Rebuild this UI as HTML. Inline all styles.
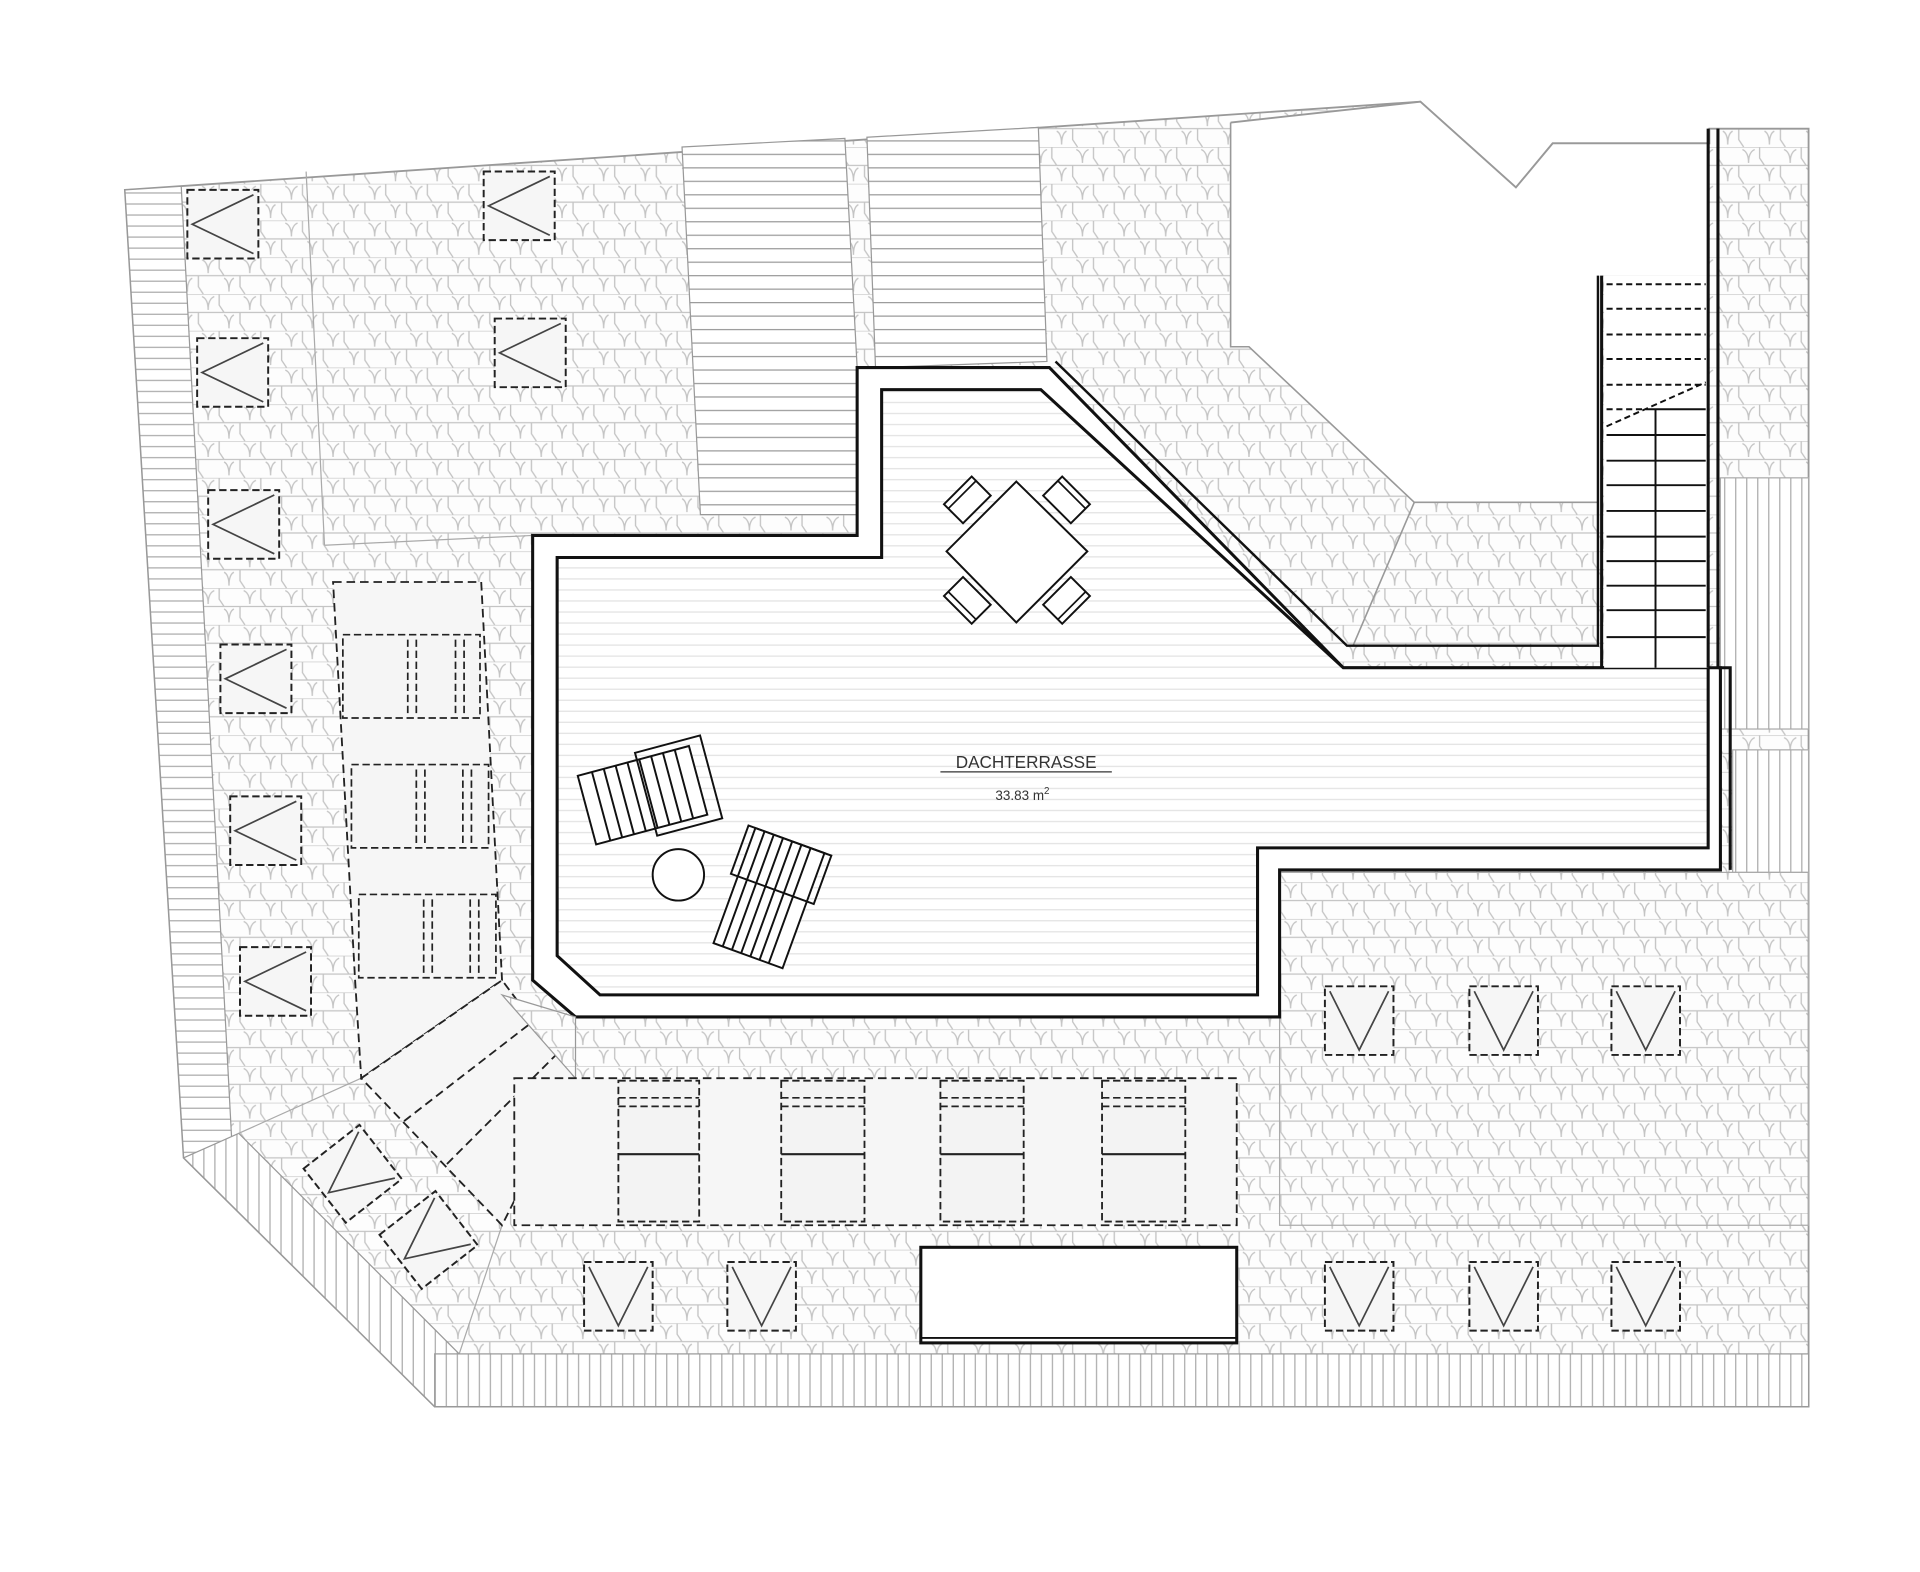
<!DOCTYPE html>
<html><head><meta charset="utf-8"><style>html,body{margin:0;padding:0;background:#fff}svg{display:block}</style></head>
<body>
<svg width="1920" height="1572" viewBox="0 0 1568 1283" preserveAspectRatio="none" xmlns="http://www.w3.org/2000/svg">
<defs>
<pattern id="tile" width="34" height="30" patternUnits="userSpaceOnUse">
<rect width="34" height="30" fill="#fdfdfd"/>
<path d="M0,0H34M0,15H34M9,0V9L13,15M26,15V24L30,30" stroke="#c4c4c4" stroke-width="1.1" fill="none"/>
<path d="M0,13Q0,4 5,2M34,13Q34,4 29,2M17,28Q17,19 21,17M17,28Q17,19 13,17" stroke="#c4c4c4" stroke-width="1.1" fill="none"/>
</pattern>
<pattern id="hl" width="10" height="9" patternUnits="userSpaceOnUse"><rect width="10" height="9" fill="#fff"/><path d="M0,4.5H10" stroke="#aaa" stroke-width="1"/></pattern>
<pattern id="hl2" width="10" height="11" patternUnits="userSpaceOnUse"><rect width="10" height="11" fill="#fff"/><path d="M0,5H10" stroke="#999" stroke-width="1"/></pattern>
<pattern id="vl" width="9" height="10" patternUnits="userSpaceOnUse"><rect width="9" height="10" fill="#fff"/><path d="M4.5,0V10" stroke="#aaa" stroke-width="1"/></pattern>
<pattern id="deck" width="10" height="9" patternUnits="userSpaceOnUse"><rect width="10" height="9" fill="#fff"/><path d="M0,4.5H10" stroke="#e2e2e2" stroke-width="1"/></pattern>
<g id="win"><rect x="0" y="0" width="56" height="56" fill="#f6f6f6" stroke="#222" stroke-width="1.6" stroke-dasharray="6,3"/><path d="M4,4L28,52L52,4" stroke="#444" stroke-width="1.4" fill="none"/></g>
<g id="winL"><rect x="0" y="0" width="58" height="56" fill="#f6f6f6" stroke="#222" stroke-width="1.6" stroke-dasharray="6,3"/><path d="M54,4L4,28L54,52" stroke="#444" stroke-width="1.4" fill="none"/></g>
<g id="chair"><rect x="-16" y="-11" width="32" height="22" fill="#fff" stroke="#111" stroke-width="1.6"/><line x1="-16" y1="-6" x2="16" y2="-6" stroke="#111" stroke-width="1.4"/></g>
</defs>
<polygon points="102,155 1160,83 1238,153 1268,117 1396,117 1396,105 1477,105 1477,1148 355,1148 150,945" fill="url(#tile)" stroke="#999" stroke-width="1.5"/>
<polygon points="1005,100 1160,83 1238,153 1268,117 1396,117 1396,225 1308,225 1308,410 1155,410 1020,283 1005,283" fill="#fff"/>
<path d="M1005,100L1160,83L1238,153L1268,117L1396,117" stroke="#999" stroke-width="1.5" fill="none"/>
<polyline points="1005,100 1005,283 1020,283 1155,410 1305,410" stroke="#999" stroke-width="1.3" fill="none"/>
<line x1="1155" y1="410" x2="1105" y2="527" stroke="#999" stroke-width="1.3"/>
<polygon points="102,155 148,152 190,945 150,945" fill="url(#hl)" stroke="#999"/>
<line x1="250" y1="140" x2="265" y2="445" stroke="#aaa"/>
<line x1="265" y1="445" x2="435" y2="437" stroke="#aaa"/>
<polygon points="150,945 195,925 375,1105 355,1148" fill="url(#vl)" stroke="#999"/>
<line x1="195" y1="925" x2="295" y2="880" stroke="#aaa"/>
<line x1="375" y1="1105" x2="410" y2="1000" stroke="#aaa"/>
<rect x="355" y="1105" width="1122" height="43" fill="url(#vl)" stroke="#999"/>
<polygon points="557,120 690,113 700,300 700,420 572,420" fill="url(#hl2)" stroke="#999"/>
<polygon points="708,112 848,104 855,295 715,300" fill="url(#hl2)" stroke="#999"/>
<rect x="1405" y="390" width="72" height="205" fill="url(#vl)" stroke="#aaa"/>
<rect x="1415" y="612" width="62" height="100" fill="url(#vl)" stroke="#aaa"/>
<rect x="1045" y="712" width="432" height="288" fill="none" stroke="#aaa"/>
<polygon points="435,437 700,437 700,300 857,300 1097,545 1405,545 1405,710 1045,710 1045,830 470,830 435,800" fill="#fff" stroke="#111" stroke-width="2.5"/>
<polygon points="455,455 720,455 720,318 850,318 1097,545 1395,545 1395,692 1027,692 1027,812 490,812 455,780" fill="url(#deck)" stroke="#111" stroke-width="2.5"/>
<polyline points="862,295 1100,527 1305,527 1305,225" fill="none" stroke="#111" stroke-width="2"/>
<rect x="1310" y="225" width="85" height="320" fill="#fff"/>
<line x1="1308" y1="225" x2="1308" y2="545" stroke="#111" stroke-width="2.5"/>
<line x1="1395" y1="105" x2="1395" y2="545" stroke="#111" stroke-width="2.5"/>
<line x1="1403" y1="105" x2="1403" y2="545" stroke="#111" stroke-width="2.5"/>
<path d="M1403,545H1413V710" stroke="#111" stroke-width="2.5" fill="none"/>
<g stroke="#111" stroke-width="1.6" stroke-dasharray="5,3">
<line x1="1312" y1="232" x2="1393" y2="232"/><line x1="1312" y1="252" x2="1393" y2="252"/><line x1="1312" y1="273" x2="1393" y2="273"/><line x1="1312" y1="293" x2="1393" y2="293"/><line x1="1312" y1="314" x2="1393" y2="314"/><line x1="1312" y1="334" x2="1345" y2="334"/><line x1="1312" y1="348" x2="1393" y2="312"/></g>
<g stroke="#111" stroke-width="1.6">
<line x1="1345" y1="334" x2="1393" y2="334"/>
<line x1="1312" y1="355" x2="1393" y2="355"/><line x1="1312" y1="376" x2="1393" y2="376"/><line x1="1312" y1="396" x2="1393" y2="396"/><line x1="1312" y1="417" x2="1393" y2="417"/><line x1="1312" y1="438" x2="1393" y2="438"/><line x1="1312" y1="458" x2="1393" y2="458"/><line x1="1312" y1="478" x2="1393" y2="478"/><line x1="1312" y1="498" x2="1393" y2="498"/><line x1="1312" y1="520" x2="1393" y2="520"/>
<line x1="1352" y1="334" x2="1352" y2="545"/></g>
<polygon points="272,475 393,475 410,800 295,880 290,800" fill="#f6f6f6" stroke="#222" stroke-width="1.5" stroke-dasharray="7,4"/>
<g fill="#f5f5f5" stroke="#222" stroke-width="1.4" stroke-dasharray="6,3">
<rect x="280" y="518" width="112" height="68"/><rect x="287" y="624" width="112" height="68"/><rect x="293" y="730" width="112" height="68"/></g>
<g stroke="#222" stroke-width="1.4" stroke-dasharray="6,3">
<path d="M333,522V584M340,522V584M372,522V584M379,522V584M340,628V690M347,628V690M378,628V690M385,628V690M346,734V796M353,734V796M384,734V796M391,734V796"/></g>
<polygon points="295,880 410,800 470,880 410,1000" fill="#f6f6f6" stroke="#222" stroke-width="1.5" stroke-dasharray="7,4"/>
<path d="M330,915L440,830M365,950L455,860" stroke="#222" stroke-width="1.5" stroke-dasharray="7,4"/>
<polygon points="410,812 470,880 470,830" fill="url(#tile)" stroke="#999"/>
<rect x="420" y="880" width="590" height="120" fill="#f6f6f6" stroke="#222" stroke-width="1.5" stroke-dasharray="7,4"/>
<g fill="#f3f3f3" stroke="#222" stroke-width="1.5" stroke-dasharray="6,3">
<rect x="505" y="882" width="66" height="115"/><rect x="638" y="882" width="68" height="115"/><rect x="768" y="882" width="68" height="115"/><rect x="900" y="882" width="68" height="115"/></g>
<g stroke="#222" stroke-width="1.8"><path d="M505,942H571M638,942H706M768,942H836M900,942H968"/></g>
<g stroke="#222" stroke-width="1.4" stroke-dasharray="6,3"><path d="M505,896H571M505,903H571M638,896H706M638,903H706M768,896H836M768,903H836M900,896H968M900,903H968"/></g>
<use href="#winL" x="153" y="155"/><use href="#winL" x="161" y="276"/><use href="#winL" x="170" y="400"/><use href="#winL" x="180" y="526"/><use href="#winL" x="188" y="650"/><use href="#winL" x="196" y="773"/>
<use href="#winL" x="395" y="140"/><use href="#winL" x="404" y="260"/>
<use href="#win" x="1082" y="805"/><use href="#win" x="1200" y="805"/><use href="#win" x="1316" y="805"/>
<use href="#win" x="477" y="1030"/><use href="#win" x="594" y="1030"/>
<use href="#win" x="1082" y="1030"/><use href="#win" x="1200" y="1030"/><use href="#win" x="1316" y="1030"/>
<g transform="rotate(-38 288 958)"><use href="#winL" x="259" y="930"/></g>
<g transform="rotate(-38 350 1012)"><use href="#winL" x="321" y="984"/></g>
<rect x="752" y="1018" width="258" height="78" fill="#fff" stroke="#111" stroke-width="2.5"/>
<line x1="752" y1="1092" x2="1010" y2="1092" stroke="#111" stroke-width="1.5"/>
<use href="#chair" transform="translate(790,408) rotate(-45)"/>
<use href="#chair" transform="translate(871,408) rotate(45)"/>
<use href="#chair" transform="translate(790,490) rotate(-135)"/>
<use href="#chair" transform="translate(871,490) rotate(135)"/>
<polygon points="830,393 888,450 830,508 773,450" fill="#fff" stroke="#111" stroke-width="1.6"/>
<g stroke="#111" stroke-width="1.6" fill="#fff">
<g transform="rotate(-15 525 650)">
<rect x="478" y="620" width="94" height="58"/>
<path d="M490,620V678M500,620V678M510,620V678M520,620V678M530,620V678M540,620V678M550,620V678M560,620V678"/>
<rect x="528" y="614" width="55" height="70" fill="none"/>
</g>
<g transform="rotate(20 628 733)">
<rect x="598" y="683" width="60" height="100"/>
<path d="M606,683V783M614,683V783M622,683V783M630,683V783M638,683V783M646,683V783"/>
<rect x="592" y="683" width="72" height="42" fill="none"/>
</g>
<circle cx="554" cy="714" r="21"/>
</g>
<text x="838" y="627" font-family="Liberation Sans, sans-serif" font-size="14" fill="#333" text-anchor="middle">DACHTERRASSE</text>
<line x1="768" y1="630" x2="908" y2="630" stroke="#333" stroke-width="1"/>
<text x="835" y="653" font-family="Liberation Sans, sans-serif" font-size="11" fill="#333" text-anchor="middle">33.83 m<tspan font-size="8" dy="-5">2</tspan></text>
</svg>
</body></html>
